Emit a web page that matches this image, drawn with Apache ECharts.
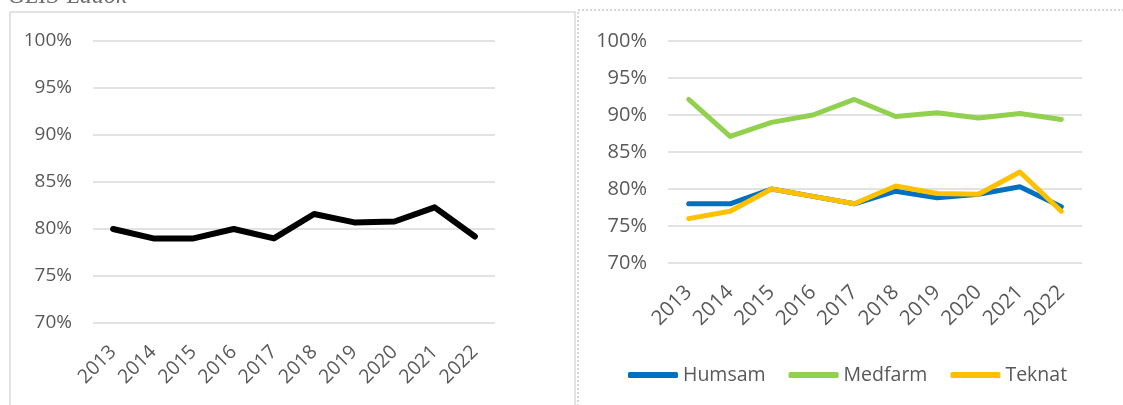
<!DOCTYPE html>
<html>
<head>
<meta charset="utf-8">
<script src="https://cdn.jsdelivr.net/npm/echarts@6/dist/echarts.min.js"></script>
<style>
  html, body { margin: 0; padding: 0; background: #fff; }
  #chart { width: 1123px; height: 405px; }
</style>
</head>
<body>
<div id="chart"></div>
<script>
// data
var years = ['2013', '2014', '2015', '2016', '2017', '2018', '2019', '2020', '2021', '2022'];
var total = [80.0, 79.0, 79.0, 80.0, 79.0, 81.6, 80.7, 80.8, 82.3, 79.2];
var humsam = [78.0, 78.0, 80.0, 79.0, 78.0, 79.7, 78.8, 79.3, 80.3, 77.6];
var medfarm = [92.1, 87.1, 89.0, 90.0, 92.1, 89.8, 90.3, 89.6, 90.2, 89.4];
var teknat = [76.0, 77.0, 80.0, 79.0, 78.0, 80.4, 79.4, 79.3, 82.3, 77.0];
var yTicks = [70, 75, 80, 85, 90, 95, 100];

var font = '"Open Sans", "Noto Sans", sans-serif';
var labelColor = '#595959';

function yAxis (gridIndex, size) {
  return {
    type: 'value',
    gridIndex: gridIndex,
    min: yTicks[0],
    max: yTicks[yTicks.length - 1],
    interval: 5,
    axisLine: { show: false },
    axisTick: { show: false },
    axisLabel: {
      formatter: '{value}%',
      color: labelColor,
      fontFamily: font,
      fontSize: size,
      margin: 21
    },
    splitLine: { lineStyle: { color: '#d9d9d9', width: 1.5 } }
  };
}

function xAxis (gridIndex, size, margin) {
  return {
    type: 'category',
    gridIndex: gridIndex,
    data: years,
    boundaryGap: true,
    axisLine: { show: false },
    axisTick: { show: false },
    axisLabel: {
      rotate: 45,
      interval: 0,
      color: labelColor,
      fontFamily: font,
      fontSize: size,
      margin: margin
    }
  };
}

function line (name, data, color, axisIndex, width) {
  return {
    name: name,
    type: 'line',
    xAxisIndex: axisIndex,
    yAxisIndex: axisIndex,
    data: data,
    symbol: 'none',
    lineStyle: { color: color, width: width, cap: 'round', join: 'round' },
    itemStyle: { color: color }
  };
}

var chart = echarts.init(document.getElementById('chart'));
chart.setOption({
  animation: false,
  backgroundColor: '#fff',
  grid: [
    { left: 93, top: 41, width: 402, height: 282 },
    { left: 668, top: 41, width: 414, height: 222 }
  ],
  xAxis: [xAxis(0, 19.5, 26), xAxis(1, 20.5, 26)],
  yAxis: [yAxis(0, 19), yAxis(1, 20)],
  legend: {
    left: 623,
    top: 360,
    data: ['Humsam', 'Medfarm', 'Teknat'],
    icon: 'roundRect',
    itemWidth: 50,
    itemHeight: 6,
    itemGap: 23,
    textStyle: { color: labelColor, fontFamily: font, fontSize: 19.5 }
  },
  graphic: [
    {
      type: 'rect',
      shape: { x: 10, y: 12, width: 565, height: 420 },
      style: { fill: 'none', stroke: '#d9d9d9', lineWidth: 1.5 },
      silent: true
    },
    {
      type: 'rect',
      shape: { x: 578, y: 10, width: 560, height: 420 },
      style: { fill: 'none', stroke: '#c8c8c8', lineWidth: 1.5, lineDash: [2, 2] },
      silent: true
    },
    {
      type: 'text',
      left: 8,
      top: -15,
      style: {
        text: 'GLIS-Ladok',
        fill: '#6f6f6f',
        font: 'italic 24px "Liberation Serif", "DejaVu Serif", serif'
      },
      silent: true
    }
  ],
  series: [
    line('Total', total, '#000000', 0, 6),
    line('Humsam', humsam, '#0070C0', 1, 5),
    line('Medfarm', medfarm, '#92D050', 1, 5),
    line('Teknat', teknat, '#FFC000', 1, 5)
  ]
});
</script>
</body>
</html>
